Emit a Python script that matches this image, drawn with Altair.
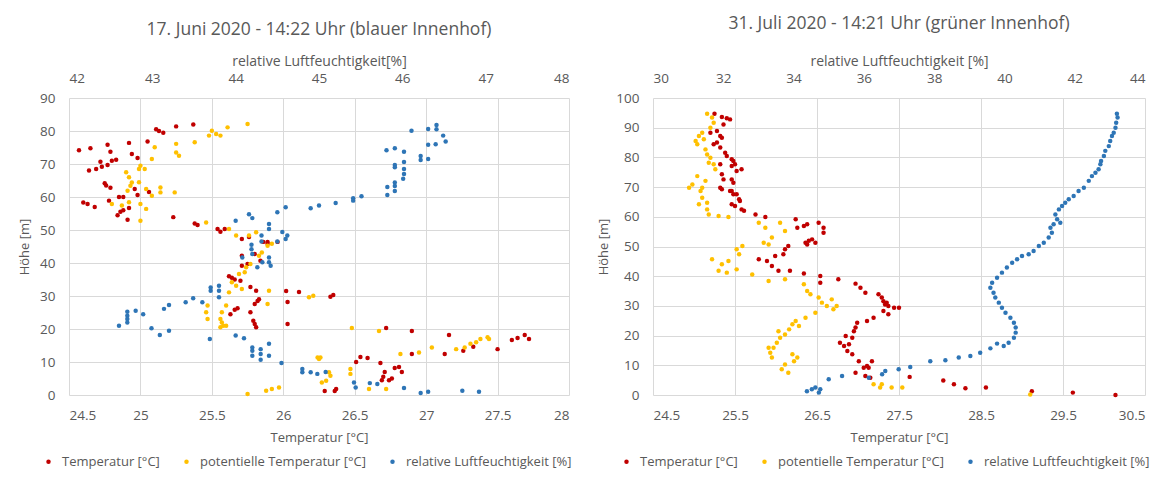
import altair as alt
import pandas as pd

FONT = "Open Sans"
GREY = "#595959"
GRID = "#d9d9d9"

SERIES = ["Temperatur [°C]", "potentielle Temperatur [°C]", "relative Luftfeuchtigkeit [%]"]
COLORS = ["#C00000", "#FFC000", "#2E75B6"]

# ---------------- Panel 1: 17. Juni 2020 ----------------
P1_TITLE = "17. Juni 2020 - 14:22 Uhr (blauer Innenhof)"
P1_T_TICKS = [24.5, 25, 25.5, 26, 26.5, 27, 27.5, 28]
P1_RH_TICKS = [42, 43, 44, 45, 46, 47, 48]
P1_H_TICKS = [0, 10, 20, 30, 40, 50, 60, 70, 80, 90]

# (Temperatur [°C], Höhe [m])
P1_TEMP = [
    (25.13, 80), (25.16, 79.5), (25.11, 80.5), (25.25, 81.4), (25.37, 82), (24.57, 74.2), (24.65, 74.8),
    (24.77, 75.8), (24.92, 76.4), (25.05, 76.8), (24.79, 73.7), (24.94, 73), (24.98, 71.8), (24.72, 70.7),
    (24.8, 71), (24.83, 71.3), (24.77, 69.7), (24.64, 68), (24.69, 68.5), (24.73, 69.2), (24.75, 64.2),
    (24.76, 63.5), (24.79, 62.8), (24.96, 62.4), (25.06, 61.5), (24.98, 60.6), (24.85, 60), (24.88, 60),
    (24.78, 58.9), (24.63, 57.9), (24.6, 58.3), (24.68, 57), (24.86, 55.5), (24.88, 56), (24.84, 54.5),
    (24.92, 56.7), (24.91, 53.1), (25.23, 53.9), (25.38, 52), (25.4, 51.5), (25.54, 50.3), (25.56, 49.5),
    (25.59, 50.3), (25.71, 47.3), (25.76, 47.9), (25.86, 46.4), (25.89, 46.4), (25.96, 46.4), (25.89, 45.8),
    (25.71, 42.2), (25.8, 42.7), (25.84, 40.7), (25.75, 39.7), (25.71, 39.2), (25.62, 36), (25.64, 35.5),
    (25.66, 35), (25.7, 34.6), (25.77, 32.7), (25.81, 31.6), (25.82, 28.5), (25.83, 29), (25.8, 27.6),
    (25.66, 25.8), (25.68, 26.3), (25.63, 24.5), (25.77, 25.1), (25.79, 22.5), (25.8, 21.5), (25.81, 20.5),
    (26.03, 28.2), (26.02, 31.5), (26.11, 31.2), (26.03, 21.5), (26.33, 29.8), (26.35, 30.3), (26.72, 20.3),
    (26.9, 19.4), (27.16, 18.2), (27.13, 12.4), (27.26, 13.4), (27.33, 14.6), (27.5, 13.9), (27.6, 16.7),
    (27.64, 17.3), (27.69, 18.2), (27.72, 17), (26.51, 10), (26.54, 11.5), (26.59, 11.2), (26.68, 9.7),
    (26.71, 7), (26.7, 5.5), (26.69, 4.5), (26.74, 4.5), (26.76, 5), (26.78, 8.2), (26.81, 8.5), (26.83, 7),
    (26.29, 1.2), (26.36, 1.2), (26.37, 1.8), (26.9, 12.4),
]

# (potentielle Temperatur [°C], Höhe [m])
P1_POT = [
    (25.5, 80.1), (25.48, 78.6), (25.53, 79.1), (25.61, 81.1), (25.75, 82.1), (25.56, 78.6), (25.38, 76.6),
    (25.25, 76.1), (25.1, 75.1), (25.27, 72.5), (25.25, 73.5), (25.0, 69.5), (25.03, 68.5), (25.08, 71.5),
    (24.99, 68.5), (24.9, 67.5), (24.92, 66), (24.94, 64.4), (24.93, 63.4), (24.91, 61.9), (24.99, 64.5),
    (25.04, 62.4), (25.14, 61.4), (25.14, 62.9), (25.24, 61.4), (25.08, 60.4), (24.92, 58.4), (25.0, 57.9),
    (25.04, 56.4), (25.0, 52.8), (24.87, 57.4), (24.8, 57.9), (25.46, 52.3), (25.62, 50.3), (25.67, 48.3),
    (25.76, 48.3), (25.81, 49.3), (25.89, 45.2), (25.92, 45.8), (25.85, 43.2), (25.83, 42.2), (25.77, 39.7),
    (25.74, 38.7), (25.73, 37.2), (25.69, 36.7), (25.64, 34.2), (25.67, 33.1), (25.71, 32.1), (25.62, 31.1),
    (25.6, 27.1), (25.57, 25.1), (25.57, 22), (25.56, 20.5), (25.46, 25.1), (25.47, 27.1), (25.47, 23),
    (25.56, 23), (25.58, 21), (25.6, 21), (25.9, 31.6), (26.18, 29.6), (26.21, 30.1), (25.89, 27.6),
    (25.88, 1.3), (25.92, 1.8), (25.97, 2.3), (25.75, 0.3), (26.24, 11.4), (26.26, 11.4), (26.48, 20.3),
    (26.67, 19.4), (26.95, 12.9), (27.04, 14.4), (26.82, 12.4), (27.21, 13.9), (27.27, 14.4), (27.31, 15.5),
    (27.35, 16), (27.38, 17), (27.43, 17.5), (27.44, 17), (26.32, 6.9), (26.33, 5.8), (26.3, 4.3),
    (26.27, 3.8), (26.47, 7.9), (26.47, 6.4), (26.25, 10.9), (26.6, 1.8), (26.72, 1.8),
]

# (relative Luftfeuchtigkeit [%], Höhe [m])
P1_RH = [
    (46.11, 80.1), (46.31, 80.6), (46.41, 81.8), (46.41, 80.5), (46.49, 78.6), (46.52, 76.8), (46.4, 76),
    (46.31, 75.8), (46.22, 72.4), (46.22, 71.2), (46.31, 71.5), (45.81, 74.2), (45.91, 74.8), (46.02, 73.7),
    (46.02, 70.6), (45.91, 69.7), (45.91, 69), (46.02, 68.5), (46.02, 67), (46.01, 65.5), (45.91, 64.4),
    (45.91, 63.3), (45.91, 61.8), (45.82, 63), (45.82, 60.6), (45.51, 60.2), (45.41, 59.6), (45.41, 58.9),
    (45.2, 58.2), (45.0, 57.4), (44.9, 56.6), (44.6, 56.9), (44.5, 55.4), (44.16, 54.8), (44.2, 53.6),
    (44.0, 52.8), (44.4, 51.8), (44.4, 50.3), (44.56, 49.4), (44.62, 48.3), (44.6, 47.3), (44.5, 46.5),
    (44.31, 48.3), (44.31, 46.5), (44.19, 45.5), (44.19, 44.2), (44.2, 42.7), (44.4, 41.7), (44.4, 40.2),
    (44.42, 39.2), (44.32, 40.2), (44.26, 38.7), (44.08, 41.7), (43.8, 33.1), (43.8, 31.6), (43.8, 29.6),
    (43.7, 31.6), (43.7, 32.6), (43.6, 28.1), (43.49, 29.3), (43.4, 28.1), (43.14, 26.1), (43.2, 27.3),
    (42.8, 25.5), (42.89, 24.5), (42.7, 25.2), (42.7, 24), (42.7, 23), (42.7, 22), (42.6, 21), (42.99, 20.2),
    (43.09, 18.2), (43.2, 19.5), (43.69, 17), (44.0, 18), (44.1, 17.2), (44.2, 14.4), (44.2, 13.4),
    (44.2, 11.9), (44.3, 13.9), (44.3, 12.4), (44.3, 10.7), (44.4, 15.5), (44.4, 11.9), (44.55, 9.7),
    (44.8, 7.9), (44.8, 6.9), (44.9, 6.9), (44.98, 6.4), (45.08, 7.0), (45.42, 3.8), (45.44, 2.3),
    (45.61, 3.6), (45.7, 3.3), (46.02, 2.1), (46.22, 0.6), (46.31, 1), (46.72, 1.3), (46.92, 1),
]

# ---------------- Panel 2: 31. Juli 2020 ----------------
P2_TITLE = "31. Juli 2020 - 14:21 Uhr (grüner Innenhof)"
P2_T_TICKS = [24.5, 25.5, 26.5, 27.5, 28.5, 29.5, 30.5]
P2_RH_TICKS = [30, 32, 34, 36, 38, 40, 42, 44]
P2_H_TICKS = [0, 10, 20, 30, 40, 50, 60, 70, 80, 90, 100]

P2_TEMP = [
    (25.25, 94.7), (25.34, 93.6), (25.4, 93.2), (25.44, 92.8), (25.36, 91.1), (25.2, 88.3), (25.28, 88.9),
    (25.32, 87.2), (25.34, 86.6), (25.28, 85), (25.24, 84.4), (25.32, 83.3), (25.38, 81.6), (25.4, 80.5),
    (25.46, 79.4), (25.48, 78.8), (25.5, 77.7), (25.58, 76), (25.46, 77.1), (25.52, 75.4), (25.32, 77.7),
    (25.34, 74.3), (25.36, 72.6), (25.46, 72.6), (25.48, 71.5), (25.46, 68.7), (25.48, 67.6), (25.32, 69.8),
    (25.34, 69.3), (25.44, 68.7), (25.52, 67.6), (25.55, 65.9), (25.56, 65.3), (25.46, 64.2), (25.5, 63.6),
    (25.58, 62.5), (25.61, 62), (25.75, 60.8), (25.87, 59.9), (26.24, 59.2), (26.26, 56.3), (26.34, 56.9),
    (26.38, 57.5), (26.52, 58), (26.58, 56.3), (26.58, 54.6), (26.36, 51.3), (26.4, 51.9), (26.44, 52.4),
    (26.48, 51.3), (26.38, 50.7), (26.15, 50.2), (26.11, 49.1), (26.09, 47.4), (25.99, 46.8), (25.89, 45.1),
    (25.79, 45.7), (25.95, 43.4), (26.03, 41.8), (26.17, 41.8), (26.34, 40.9), (26.54, 40.1), (26.54, 37.8),
    (26.76, 39), (26.97, 37.5), (27.03, 36.1), (27.09, 34.4), (27.25, 33.9), (27.29, 32.8), (27.31, 31.6),
    (27.35, 31.1), (27.33, 30.5), (27.37, 30), (27.44, 29.4), (27.5, 29.4), (27.31, 28.3), (27.37, 27.2),
    (27.19, 26), (27.11, 24.9), (26.99, 24.3), (26.97, 22.7), (26.95, 21.5), (26.93, 19.3), (26.85, 19.9),
    (26.89, 17.1), (26.83, 16.5), (26.87, 14.8), (26.93, 13.7), (26.78, 17.6), (27.01, 11.4), (27.07, 9.2),
    (27.13, 9.2), (27.17, 11.4), (27.09, 6.4), (27.15, 5.8), (26.97, 7.5), (27.11, 9.8), (27.63, 6.1),
    (28.04, 4.9), (28.17, 3.6), (28.31, 2.3), (28.56, 2.5), (29.12, 1.3), (29.62, 0.8), (30.14, 0),
]

P2_POT = [
    (25.16, 94.7), (25.22, 93.4), (25.24, 91.7), (25.2, 90), (25.1, 88.3), (25.06, 87.2), (25.12, 86.1),
    (25.02, 85.5), (25.04, 84.4), (25.14, 82.7), (25.16, 81), (25.2, 79.9), (25.18, 78.2), (25.24, 77.7),
    (25.26, 76), (25.04, 73.7), (24.98, 70.9), (24.94, 69.8), (25.1, 69.8), (25.14, 72.1), (25.08, 68.7),
    (25.1, 66.4), (25.16, 64.7), (25.06, 64.2), (25.16, 62.5), (25.18, 60.8), (25.3, 60.3), (25.42, 59.9),
    (25.79, 58), (25.87, 56.3), (26.05, 58), (26.11, 55.2), (25.95, 53), (25.91, 50.7), (25.85, 51.3),
    (25.59, 50.2), (25.52, 49.1), (25.55, 47.4), (25.42, 45.1), (25.34, 44), (25.22, 45.7), (25.3, 41.8),
    (25.4, 41.2), (25.52, 42.3), (25.71, 40.6), (25.91, 38.4), (26.11, 39), (26.34, 37.3), (26.38, 35),
    (26.42, 33.9), (26.52, 32.8), (26.56, 31.1), (26.62, 30), (26.7, 28.9), (26.74, 30), (26.68, 32.2),
    (26.48, 27.7), (26.36, 26), (26.24, 24.9), (26.2, 23.8), (26.16, 22.1), (26.11, 20.4), (26.05, 19.3),
    (26.01, 17.6), (25.97, 15.9), (25.93, 14.2), (25.95, 12.6), (25.91, 15.9), (26.03, 21.5), (26.28, 23.2),
    (26.2, 13.7), (26.22, 11.4), (26.11, 10.3), (26.07, 8.7), (26.15, 7.5), (26.26, 12.6), (27.27, 2.5),
    (27.54, 2.5), (29.1, 0.2), (27.29, 3.6), (27.41, 2.5), (27.19, 3.6),
]

P2_RH = [
    (43.2, 94.7), (43.22, 93.4), (43.18, 91.7), (43.16, 90), (43.11, 88.3), (43.06, 87.2), (43.01, 85.5),
    (42.97, 83.8), (42.87, 82.2), (42.83, 80.5), (42.75, 78.8), (42.73, 77.7), (42.68, 76), (42.59, 74.8),
    (42.49, 73.7), (42.4, 72.1), (42.26, 69.8), (42.11, 68.7), (41.97, 67), (41.83, 65.9), (41.73, 64.7),
    (41.64, 63.6), (41.55, 62.5), (41.45, 60.8), (41.5, 59.2), (41.4, 57.5), (41.59, 58), (41.31, 56.3),
    (41.35, 54.6), (41.26, 53), (41.12, 51.3), (40.98, 50.2), (40.83, 48.5), (40.69, 47.4), (40.5, 46.8),
    (40.36, 45.7), (40.22, 44.5), (40.07, 42.9), (39.93, 41.2), (39.79, 39.5), (39.65, 37.8), (39.6, 36.1),
    (39.69, 34.4), (39.74, 32.8), (39.84, 31.1), (39.93, 29.4), (40.03, 27.7), (40.17, 26), (40.27, 24.3),
    (40.32, 22.7), (40.32, 21), (40.27, 19.3), (40.12, 17.6), (39.98, 16.5), (39.79, 17.3), (39.6, 15.7),
    (39.31, 14.2), (39.03, 13.1), (38.7, 12.6), (38.32, 11.7), (37.89, 11.4), (37.32, 9.4), (36.99, 8.7),
    (36.61, 8.1), (36.52, 7), (36.14, 5.8), (35.38, 6.4), (35.0, 5.3), (34.62, 2.5), (34.52, 1.9),
    (34.38, 1.3), (34.72, 0.8), (34.76, 1.9),
]


def panel(title, temp, pot, rh, t_ticks, rh_ticks, h_ticks, rh_title, width, height,
          title_offset, legend_x, legend_y, y_title_pad):
    tdf = pd.DataFrame(temp + pot, columns=["t", "h"])
    tdf["Reihe"] = [SERIES[0]] * len(temp) + [SERIES[1]] * len(pot)
    rdf = pd.DataFrame(rh, columns=["rh", "h"])
    rdf["Reihe"] = SERIES[2]

    color = alt.Color(
        "Reihe:N",
        scale=alt.Scale(domain=SERIES, range=COLORS),
        legend=alt.Legend(
            orient="none", legendX=legend_x, legendY=legend_y, direction="horizontal",
            title=None, symbolType="circle", symbolSize=20, symbolStrokeWidth=0,
            labelFont=FONT, labelFontSize=13, labelColor=GREY, labelOffset=7,
            labelLimit=400, columnPadding=20,
        ),
    )
    y = alt.Y(
        "h:Q",
        scale=alt.Scale(domain=[h_ticks[0], h_ticks[-1]], nice=False, zero=False),
        axis=alt.Axis(
            values=h_ticks, title="Höhe [m]", titleFont=FONT, titleFontSize=13,
            titleFontWeight="normal", titleColor=GREY, titlePadding=y_title_pad,
            labelFont=FONT, labelFontSize=13.5, labelColor=GREY, labelPadding=14,
            domain=False, ticks=False, grid=True, gridColor=GRID,
        ),
    )
    temp_layer = alt.Chart(tdf).mark_point(filled=True, size=20, opacity=1).encode(
        x=alt.X(
            "t:Q",
            scale=alt.Scale(domain=[t_ticks[0], t_ticks[-1]], nice=False, zero=False),
            axis=alt.Axis(
                values=t_ticks, format=".1~f", orient="bottom", title="Temperatur [°C]",
                titleFont=FONT, titleFontSize=13, titleFontWeight="normal", titleColor=GREY,
                titlePadding=10, labelFont=FONT, labelFontSize=13.5, labelColor=GREY,
                labelPadding=13, domain=False, ticks=False, grid=True, gridColor=GRID,
            ),
        ),
        y=y,
        color=color,
    )
    rh_layer = alt.Chart(rdf).mark_point(filled=True, size=20, opacity=1).encode(
        x=alt.X(
            "rh:Q",
            scale=alt.Scale(domain=[rh_ticks[0], rh_ticks[-1]], nice=False, zero=False),
            axis=alt.Axis(
                values=rh_ticks, format="d", orient="top", title=rh_title,
                titleFont=FONT, titleFontSize=14, titleFontWeight="normal", titleColor=GREY,
                titlePadding=3, labelFont=FONT, labelFontSize=13.5, labelColor=GREY,
                labelPadding=13, domain=False, ticks=False, grid=False,
            ),
        ),
        y=y,
        color=color,
    )
    return alt.layer(temp_layer, rh_layer).resolve_scale(x="independent").properties(
        width=width, height=height,
        title=alt.TitleParams(title, font=FONT, fontSize=17.5, fontWeight="normal",
                              color=GREY, offset=title_offset),
    )


p1 = panel(P1_TITLE, P1_TEMP, P1_POT, P1_RH, P1_T_TICKS, P1_RH_TICKS, P1_H_TICKS,
           "relative Luftfeuchtigkeit[%]", 500, 297, 16, -27, 357, 8)
p2 = panel(P2_TITLE, P2_TEMP, P2_POT, P2_RH, P2_T_TICKS, P2_RH_TICKS, P2_H_TICKS,
           "relative Luftfeuchtigkeit [%]", 492, 297, 22, -33, 357, 5)

chart = alt.hconcat(p1, p2, spacing=25).resolve_scale(color="independent").configure_view(
    stroke=None
).properties(padding={"left": 10, "top": 6, "right": 0, "bottom": 0})

chart.save("out.html", embed_options={"renderer": "svg", "actions": False})
